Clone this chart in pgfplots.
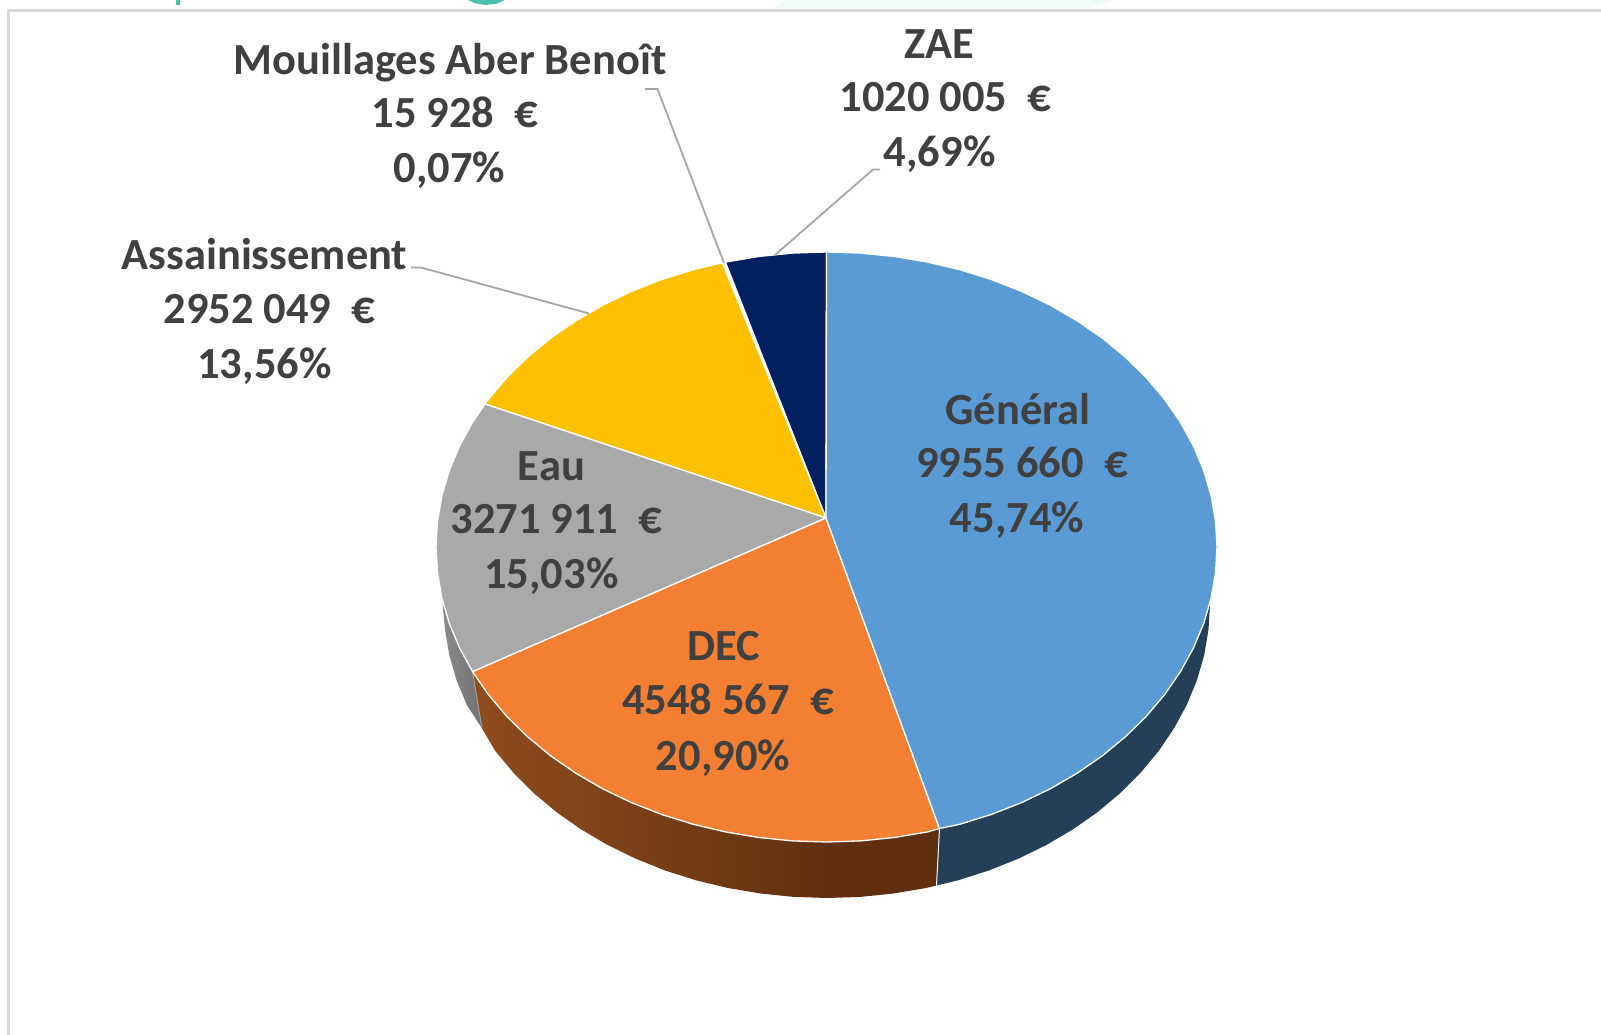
\documentclass[border=0pt]{standalone}
\usepackage{fontspec}
\setmainfont{Carlito}
\usepackage{pgfplots}
\pgfplotsset{compat=1.18}
\definecolor{general}{HTML}{5B9BD5}
\definecolor{generalwall}{HTML}{243F57}
\definecolor{dec}{HTML}{F38032}
\definecolor{eau}{HTML}{A9A9A9}
\definecolor{assain}{HTML}{FFC000}
\definecolor{zae}{HTML}{002060}
\definecolor{labeltext}{HTML}{404040}
\definecolor{leader}{HTML}{A6A6A6}
\definecolor{framerule}{HTML}{D9D9D9}
\definecolor{teal}{HTML}{4CBFAF}
\definecolor{paleteal}{HTML}{F0FAF7}
\definecolor{decwallA}{HTML}{AE5E24}
\definecolor{decwallB}{HTML}{5F2F10}
\definecolor{eauwallA}{HTML}{969696}
\definecolor{eauwallB}{HTML}{666666}
\pgfdeclarehorizontalshading{decwallshade}{100bp}{color(0bp)=(decwallA); color(65bp)=(decwallB); color(100bp)=(decwallB)}
\pgfdeclarehorizontalshading{eauwallshade}{100bp}{color(0bp)=(eauwallA); color(100bp)=(eauwallB)}
\newcommand{\eur}{{\fontsize{47}{50}\selectfont €}}
\tikzset{
    lab/.style={anchor=base, text=labeltext, inner sep=0pt, font=\fontsize{44.5}{50}\selectfont\bfseries},
    wedge/.style={draw=white, line width=1.3pt, line join=round},
    leaderline/.style={draw=leader, line width=1.8pt}
}
\begin{document}
\begin{tikzpicture}
\begin{axis}[
    width=1601pt, height=1035pt,
    scale only axis,
    xmin=0, xmax=1601,
    ymin=0, ymax=1035,
    y dir=reverse,
    hide axis
]
% hide axis leaves the box out of the bounding box
\path (axis cs:0,0) (axis cs:1601,1035);
% frame and cut off heading above the chart
\addplot[draw=none, fill=paleteal] coordinates {(788,0) (1113,0) (1090,8) (773,8)} -- cycle;
\addplot[draw=none, fill=teal] coordinates {(175.5,0) (179.5,0) (179.5,5) (175.5,5)} -- cycle;
\addplot[draw=none, fill=teal] coordinates {(468,0) (474,3) (485,5) (496,4) (505,0)} -- cycle;
\addplot[draw=framerule, line width=2.4pt] coordinates {(1601,10.5) (8.5,10.5) (8.5,1035)};

% side walls
\addplot[draw=none, fill=generalwall] coordinates {
    (1210,604) (1208.5,629.6) (1204.2,655.1) (1197,680.1) (1186.9,704.6) (1174.1,728.2)
    (1158.7,751) (1140.7,772.6) (1120.4,793) (1097.8,811.9) (1073.2,829.2) (1046.7,844.8)
    (1018.5,858.6) (988.9,870.5) (958,880.3) (936.5,885.5) (939.5,828.5)
} -- cycle;
\addplot[draw=none, shade, shading=decwallshade] coordinates {
    (939.5,828.5) (936.5,885.5) (926.1,888) (893.5,893.5) (860.4,896.9) (827,898) (793.6,896.9)
    (760.5,893.5) (727.9,888) (696,880.3) (665.1,870.5) (635.5,858.6) (607.3,844.8)
    (580.8,829.2) (556.2,811.9) (533.6,793) (513.3,772.6) (495.3,751) (482,728.5) (472.6,671.7)
} -- cycle;
\addplot[draw=none, shade, shading=eauwallshade] coordinates {
    (442.5,604) (445,629.6) (449.3,655.1) (456.5,680.1) (466.6,704.6) (482,728.5) (472.6,671.7)
} -- cycle;
\addplot[draw=white, line width=1pt] coordinates {(939.5,828.5) (936.5,885.5)};
\addplot[draw=leader, line width=0.8pt] coordinates {(472.6,671.7) (482,728.5)};

% top of the pie, the Mouillages sliver is only a pale seam
\addplot[wedge, fill=white] coordinates {(826,518) (722.2,262.7) (725.4,262.1)} -- cycle;
\addplot[wedge, fill=zae] coordinates {
    (826,518) (725.4,262.1) (758.7,256.5) (792.5,253.1) (826.5,252)
} -- cycle;
\addplot[wedge, fill=assain] coordinates {
    (826,518) (485,404) (488.3,399.5) (506.6,377.8) (527.4,357.4) (550.4,338.4) (575.5,321)
    (602.5,305.3) (631.2,291.5) (661.5,279.6) (692.9,269.8) (722.2,262.7)
} -- cycle;
\addplot[wedge, fill=eau] coordinates {
    (826,518) (472.6,671.7) (459.5,647.9) (449.3,623.4) (441.9,598.2) (437.5,572.7) (436,547)
    (437.5,521.3) (441.9,495.8) (449.3,470.6) (459.5,446.1) (472.6,422.3) (485,404)
} -- cycle;
\addplot[wedge, fill=dec] coordinates {
    (826,518) (939.5,828.5) (927.6,831.9) (894.3,837.5) (860.5,840.9) (826.5,842) (792.5,840.9)
    (758.7,837.5) (725.4,831.9) (692.9,824.2) (661.5,814.4) (631.2,802.5) (602.5,788.7) (575.5,773)
    (550.4,755.6) (527.4,736.6) (506.6,716.2) (488.3,694.5) (472.6,671.7)
} -- cycle;
\addplot[wedge, fill=general] coordinates {
    (826,518) (826.5,252) (860.5,253.1) (894.3,256.5) (927.6,262.1) (960.1,269.8) (991.5,279.6)
    (1021.8,291.5) (1050.5,305.3) (1077.5,321) (1102.6,338.4) (1125.6,357.4) (1146.4,377.8)
    (1164.7,399.5) (1180.4,422.3) (1193.5,446.1) (1203.7,470.6) (1211.1,495.8) (1215.5,521.3)
    (1217,547) (1215.5,572.7) (1211.1,598.2) (1203.7,623.4) (1193.5,647.9) (1180.4,671.7)
    (1164.7,694.5) (1146.4,716.2) (1125.6,736.6) (1102.6,755.6) (1077.5,773) (1050.5,788.7)
    (1021.8,802.5) (991.5,814.4) (960.1,824.2) (939.5,828.5)
} -- cycle;

% leader lines
\addplot[leaderline] coordinates {(775,255) (873,169.5) (880,169.5)};
\addplot[leaderline] coordinates {(724,263) (657.5,89) (645,89)};
\addplot[leaderline] coordinates {(589,313.5) (421,267.5) (411,267.5)};

% labels
\node[lab] at (axis cs:450,74.5) {Mouillages Aber Benoît};
\node[lab] at (axis cs:455,128) {15 928~~\eur};
\node[lab] at (axis cs:449.5,183) {0,07\%};
\node[lab] at (axis cs:939.7,58.5) {ZAE};
\node[lab] at (axis cs:945.5,111.5) {1020 005~~\eur};
\node[lab] at (axis cs:939.7,166.5) {4,69\%};
\node[lab] at (axis cs:264.5,269.5) {Assainissement};
\node[lab] at (axis cs:269.5,323) {2952 049~~\eur};
\node[lab] at (axis cs:264.5,378) {13,56\%};
\node[lab] at (axis cs:1018,424) {Général};
\node[lab] at (axis cs:1022,477) {9955 660~~\eur};
\node[lab] at (axis cs:1017,532.2) {45,74\%};
\node[lab] at (axis cs:551.4,480.1) {Eau};
\node[lab] at (axis cs:556.5,533.2) {3271 911~~\eur};
\node[lab] at (axis cs:551.4,588.3) {15,03\%};
\node[lab] at (axis cs:724,660.5) {DEC};
\node[lab] at (axis cs:728,714.9) {4548 567~~\eur};
\node[lab] at (axis cs:723,770.1) {20,90\%};
\end{axis}
\end{tikzpicture}
\end{document}
